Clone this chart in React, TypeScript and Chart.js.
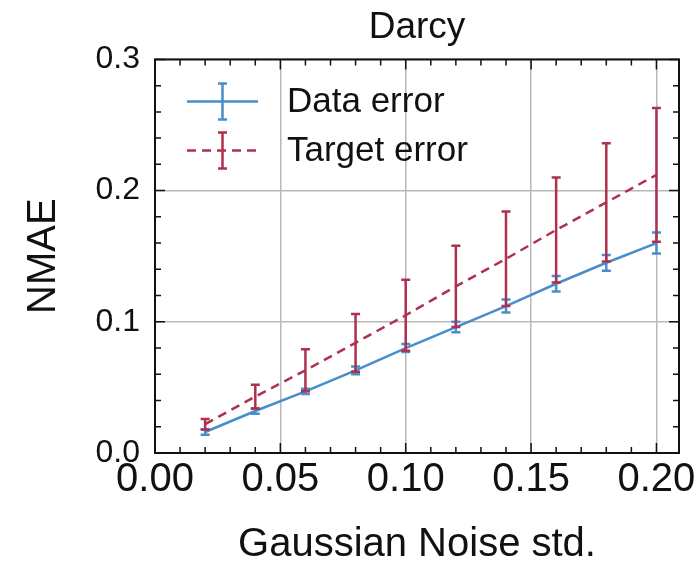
import React, { useEffect, useRef } from 'react';
import { Chart, registerables } from 'chart.js';

Chart.register(...registerables);

// ---- data ----
const noiseStd = [0.02, 0.04, 0.06, 0.08, 0.1, 0.12, 0.14, 0.16, 0.18, 0.2];
const dataErrMean = [0.016, 0.032, 0.047, 0.063, 0.08, 0.096, 0.112, 0.129, 0.145, 0.16];
const dataErrStd = [0.002, 0.002, 0.002, 0.003, 0.003, 0.004, 0.005, 0.006, 0.006, 0.008];
const targetErrMean = [0.022, 0.043, 0.063, 0.084, 0.105, 0.127, 0.148, 0.17, 0.191, 0.212];
const targetErrStd = [0.004, 0.009, 0.016, 0.022, 0.027, 0.031, 0.036, 0.04, 0.045, 0.051];

const xTicks = [0, 0.05, 0.1, 0.15, 0.2];
const xTickLabels = ['0.00', '0.05', '0.10', '0.15', '0.20'];
const yTicks = [0, 0.1, 0.2, 0.3];
const yTickLabels = ['0.0', '0.1', '0.2', '0.3'];
const seriesLabels = ['Data error', 'Target error'];
const titleText = 'Darcy';
const xTitle = 'Gaussian Noise std.';
const yTitle = 'NMAE';

// ---- style ----
const FONT = "'Liberation Sans', Arial, sans-serif";
const BLUE = '#4a8dcb';
const RED = '#b0304f';
const GRID = '#b8b8b8';
const INK = '#111111';
const X_MAX = 0.209;
const Y_MAX = 0.3;
const X_MINOR = 0.01;
const Y_MINOR = 0.02;

const errorBarPlugin = {
  id: 'errorBars',
  afterDatasetDraw(chart: any, args: any) {
    const ds = chart.data.datasets[args.index];
    const errs: number[] | undefined = ds.errors;
    if (!errs) return;
    const ctx = chart.ctx;
    const xs = chart.scales.x;
    const ys = chart.scales.y;
    ctx.save();
    ctx.strokeStyle = ds.barColor || ds.borderColor;
    ctx.lineWidth = 2.5;
    ctx.setLineDash([]);
    const cap = 4.5;
    ds.data.forEach((p: any, i: number) => {
      const px = xs.getPixelForValue(p.x);
      const t = ys.getPixelForValue(p.y + errs[i]);
      const b = ys.getPixelForValue(p.y - errs[i]);
      ctx.beginPath();
      ctx.moveTo(px, t);
      ctx.lineTo(px, b);
      ctx.moveTo(px - cap, t);
      ctx.lineTo(px + cap, t);
      ctx.moveTo(px - cap, b);
      ctx.lineTo(px + cap, b);
      ctx.stroke();
    });
    ctx.restore();
  },
};

const frameTicksPlugin = {
  id: 'frameTicks',
  afterDraw(chart: any) {
    const ctx = chart.ctx;
    const { left, right, top, bottom } = chart.chartArea;
    const xs = chart.scales.x;
    const ys = chart.scales.y;
    ctx.save();
    ctx.strokeStyle = INK;
    ctx.lineWidth = 1.5;
    ctx.beginPath();
    const isMajor = (v: number, majors: number[]) => majors.some((m) => Math.abs(m - v) < 1e-9);
    for (let k = 0; k * X_MINOR <= X_MAX + 1e-9; k++) {
      const v = +(k * X_MINOR).toFixed(4);
      const len = isMajor(v, xTicks) ? 10 : 6;
      const px = xs.getPixelForValue(v);
      ctx.moveTo(px, bottom);
      ctx.lineTo(px, bottom - len);
      ctx.moveTo(px, top);
      ctx.lineTo(px, top + len);
    }
    for (let k = 0; k * Y_MINOR <= Y_MAX + 1e-9; k++) {
      const v = +(k * Y_MINOR).toFixed(4);
      const len = isMajor(v, yTicks) ? 10 : 6;
      const py = ys.getPixelForValue(v);
      ctx.moveTo(left, py);
      ctx.lineTo(left + len, py);
      ctx.moveTo(right, py);
      ctx.lineTo(right - len, py);
    }
    ctx.stroke();
    ctx.lineWidth = 2;
    ctx.strokeRect(left, top, right - left, bottom - top);
    ctx.restore();
  },
};

const innerLegendPlugin = {
  id: 'innerLegend',
  afterDraw(chart: any) {
    const ctx = chart.ctx;
    const { left, top } = chart.chartArea;
    ctx.save();
    chart.data.datasets.forEach((ds: any, i: number) => {
      const y = top + 42 + i * 49;
      const x0 = left + 32;
      const x1 = left + 103;
      const xc = (x0 + x1) / 2;
      ctx.strokeStyle = ds.borderColor;
      ctx.lineWidth = 2.5;
      ctx.setLineDash(ds.borderDash || []);
      ctx.beginPath();
      ctx.moveTo(x0, y);
      ctx.lineTo(x1, y);
      ctx.stroke();
      ctx.setLineDash([]);
      ctx.strokeStyle = ds.barColor || ds.borderColor;
      ctx.beginPath();
      ctx.moveTo(xc, y - 18);
      ctx.lineTo(xc, y + 18);
      ctx.moveTo(xc - 4.5, y - 18);
      ctx.lineTo(xc + 4.5, y - 18);
      ctx.moveTo(xc - 4.5, y + 18);
      ctx.lineTo(xc + 4.5, y + 18);
      ctx.stroke();
      ctx.fillStyle = INK;
      ctx.font = `35px ${FONT}`;
      ctx.textAlign = 'left';
      ctx.textBaseline = 'middle';
      ctx.fillText(ds.label, left + 132, y + 1);
    });
    ctx.restore();
  },
};

export default function App() {
  const ref = useRef<HTMLCanvasElement | null>(null);
  useEffect(() => {
    if (!ref.current) return;
    const chart = new Chart(ref.current, {
      type: 'line',
      data: {
        datasets: [
          {
            label: seriesLabels[0],
            data: noiseStd.map((x, i) => ({ x, y: dataErrMean[i] })),
            errors: dataErrStd,
            borderColor: BLUE,
            borderWidth: 2.5,
            pointRadius: 0,
            fill: false,
            order: 2,
          } as any,
          {
            label: seriesLabels[1],
            data: noiseStd.map((x, i) => ({ x, y: targetErrMean[i] })),
            errors: targetErrStd,
            borderColor: RED,
            borderWidth: 2.5,
            borderDash: [9, 6],
            pointRadius: 0,
            fill: false,
            order: 1,
          } as any,
        ],
      },
      options: {
        responsive: false,
        animation: false,
        layout: { padding: { left: 0, right: 21, top: 0, bottom: 0 } },
        plugins: {
          legend: { display: false },
          tooltip: { enabled: false },
          title: {
            display: true,
            fullSize: false,
            text: titleText,
            color: INK,
            font: { family: FONT, size: 37, weight: 'normal' },
            padding: { top: 6, bottom: 9 },
          },
        },
        scales: {
          x: {
            type: 'linear',
            min: 0,
            max: X_MAX,
            afterBuildTicks: (s: any) => {
              s.ticks = xTicks.map((v) => ({ value: v }));
            },
            afterFit: (s: any) => {
              s.height = 114;
              s.paddingLeft = 0;
              s.paddingRight = 0;
            },
            ticks: {
              callback: (_v: any, i: number) => xTickLabels[i],
              color: INK,
              font: { family: FONT, size: 40 },
              padding: 3,
              maxRotation: 0,
              autoSkip: false,
            },
            grid: { color: GRID, lineWidth: 1.5, drawTicks: false },
            border: { display: false },
            title: {
              display: true,
              text: xTitle,
              color: INK,
              font: { family: FONT, size: 40, lineHeight: 1.0 },
              padding: { top: 0, bottom: 2 },
            },
          },
          y: {
            type: 'linear',
            min: 0,
            max: Y_MAX,
            afterBuildTicks: (s: any) => {
              s.ticks = yTicks.map((v) => ({ value: v }));
            },
            afterFit: (s: any) => {
              s.width = 155;
            },
            ticks: {
              callback: (_v: any, i: number) => yTickLabels[i],
              color: INK,
              font: { family: FONT, size: 32 },
              padding: 15,
              autoSkip: false,
            },
            grid: { color: GRID, lineWidth: 1.5, drawTicks: false },
            border: { display: false },
            title: {
              display: true,
              text: yTitle,
              color: INK,
              font: { family: FONT, size: 40, lineHeight: 1.2 },
              padding: { top: 20, bottom: 0 },
            },
          },
        },
      } as any,
      plugins: [errorBarPlugin, frameTicksPlugin, innerLegendPlugin],
    });
    return () => chart.destroy();
  }, []);
  return (
    <div style={{ position: 'absolute', left: 0, top: 0, width: 700, height: 567, background: '#fff' }}>
      <canvas ref={ref} width={700} height={567} style={{ display: 'block' }} />
    </div>
  );
}
